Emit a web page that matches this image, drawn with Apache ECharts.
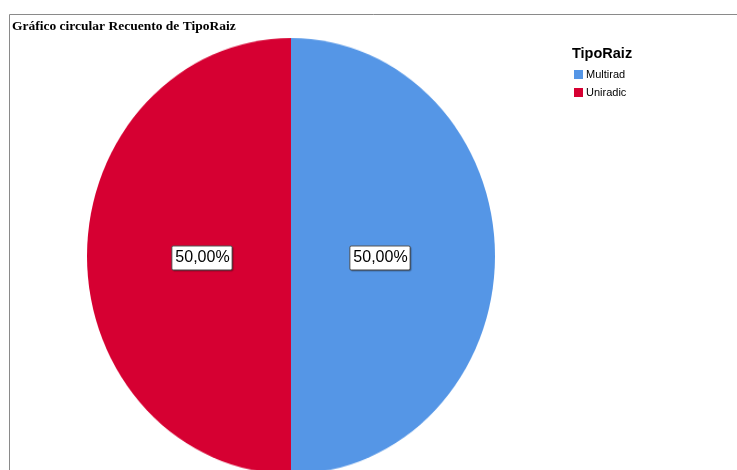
<!DOCTYPE html>
<html>
<head>
<meta charset="utf-8">
<script src="https://cdn.jsdelivr.net/npm/echarts@6/dist/echarts.min.js"></script>
<style>
  html, body { margin: 0; padding: 0; background: #ffffff; }
  #wrap { position: relative; width: 737px; height: 470px; overflow: hidden; background: #ffffff; }
  #pieLayer, #textLayer { position: absolute; left: 0; top: 0; width: 737px; height: 470px; }
  /* the pie is drawn slightly taller than wide */
  #pieLayer { transform: scaleY(1.0686); transform-origin: 291px 256px; }
</style>
</head>
<body>
<div id="wrap">
  <div id="pieLayer"></div>
  <div id="textLayer"></div>
</div>
<script>
// Recuento de TipoRaiz
const categories = ['Multirad', 'Uniradic'];
const percents = [50, 50];
const colors = ['#5596e6', '#d60032'];

const pieData = categories.map((name, i) => ({ name: name, value: percents[i] }));

// Filled slices
const pieChart = echarts.init(document.getElementById('pieLayer'), null, { renderer: 'canvas' });
pieChart.setOption({
  animation: false,
  backgroundColor: 'transparent',
  color: colors,
  series: [{
    type: 'pie',
    center: [291, 256],
    radius: 204,
    startAngle: 90,
    clockwise: true,
    silent: true,
    label: { show: false },
    labelLine: { show: false },
    itemStyle: { borderWidth: 0 },
    emphasis: { disabled: true },
    data: pieData
  }]
});

// Titles, legend, value labels and frame
const textChart = echarts.init(document.getElementById('textLayer'), null, { renderer: 'canvas' });
textChart.setOption({
  animation: false,
  backgroundColor: 'transparent',
  title: [
    {
      text: 'Gráfico circular Recuento de TipoRaiz',
      left: 12, top: 20,
      padding: 0,
      textStyle: { fontFamily: 'Liberation Serif', fontWeight: 'bold', fontSize: 13.5, color: '#000000' }
    },
    {
      text: 'TipoRaiz',
      left: 572, top: 46,
      padding: 0,
      textStyle: { fontFamily: 'Liberation Sans', fontWeight: 'bold', fontSize: 14.5, color: '#000000' }
    }
  ],
  legend: {
    orient: 'vertical',
    left: 574, top: 69,
    padding: 0,
    itemWidth: 9, itemHeight: 9,
    itemGap: 7,
    icon: 'rect',
    selectedMode: false,
    textStyle: { fontFamily: 'Liberation Sans', fontSize: 11, color: '#000000', padding: [0, 0, 0, -2] },
    data: categories.map((name, i) => ({ name: name, itemStyle: { color: colors[i], opacity: 1 } }))
  },
  graphic: [
    {
      type: 'polyline',
      silent: true,
      shape: { points: [[9.5, 470], [9.5, 14.5], [737, 14.5]] },
      style: { stroke: '#8a8a8a', lineWidth: 1, fill: null }
    }
  ],
  series: [{
    type: 'pie',
    center: [291, 258],
    radius: 172,
    startAngle: 90,
    clockwise: true,
    silent: true,
    itemStyle: { color: 'rgba(0,0,0,0)', borderWidth: 0 },
    labelLine: { show: false },
    emphasis: { disabled: true },
    label: {
      show: true,
      position: 'inside',
      formatter: p => p.percent.toFixed(2).replace('.', ',') + '%',
      fontFamily: 'Liberation Sans',
      fontSize: 16,
      color: '#000000',
      backgroundColor: '#ffffff',
      borderColor: '#555555',
      borderWidth: 1,
      borderRadius: 1,
      padding: [4, 2, 3, 3],
      shadowColor: 'rgba(0,0,0,0.25)',
      shadowBlur: 1,
      shadowOffsetX: 1,
      shadowOffsetY: 1
    },
    data: pieData
  }]
});
</script>
</body>
</html>
